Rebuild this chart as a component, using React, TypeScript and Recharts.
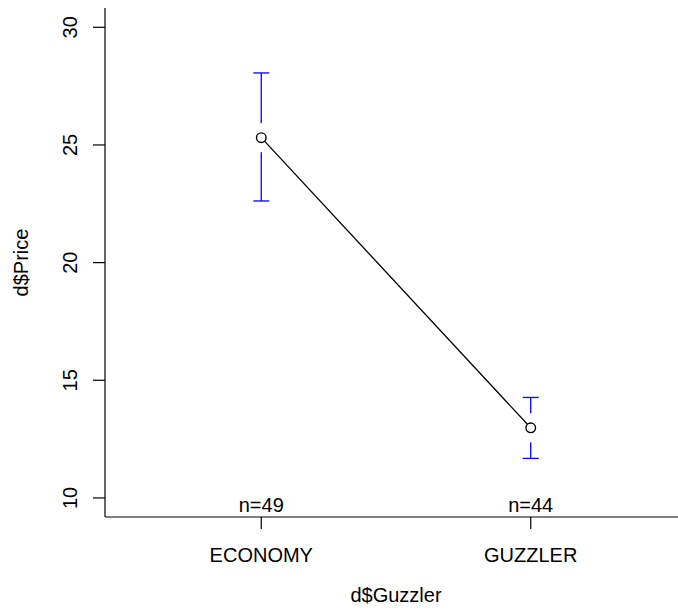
import React from "react";
import { ComposedChart, Line, Scatter, ErrorBar, XAxis, YAxis } from "recharts";

const categories = ["ECONOMY", "GUZZLER"];
const means = [25.31, 12.98];
const lowerCI = [22.62, 11.68];
const upperCI = [28.06, 14.27];
const counts = [49, 44];
const yTicks = [10, 15, 20, 25, 30];
const xTicks = [1, 2];

const rows = categories.map((c, i) => ({
  x: i + 1,
  name: c,
  mean: means[i],
  err: [means[i] - lowerCI[i], upperCI[i] - means[i]],
  n: counts[i],
}));

const FONT = "'Liberation Sans', Arial, Helvetica, sans-serif";
const FS = 20;
const SW = 1.2;

const XTick = (props: any) => {
  const { x, y, payload } = props;
  const i = Math.round(payload.value) - 1;
  return (
    <g>
      <text x={x} y={y - 16.7} textAnchor="middle" fontFamily={FONT} fontSize={FS} fill="#000">
        {"n=" + counts[i]}
      </text>
      <text x={x} y={y + 32.7} textAnchor="middle" fontFamily={FONT} fontSize={FS} fill="#000">
        {categories[i]}
      </text>
    </g>
  );
};

const YTick = (props: any) => {
  const { x, y, payload } = props;
  const bx = x - 16.3;
  return (
    <text
      x={bx}
      y={y}
      transform={`rotate(-90, ${bx}, ${y})`}
      textAnchor="middle"
      fontFamily={FONT}
      fontSize={FS}
      fill="#000"
    >
      {payload.value}
    </text>
  );
};

const MeanDot = (props: any) => {
  const { cx, cy, index } = props;
  if (cx == null || cy == null) return <g key={"d" + index} />;
  return (
    <g key={"d" + index}>
      <rect x={cx - 2} y={cy - 14.5} width={4} height={29} fill="#fff" />
      <circle cx={cx} cy={cy} r={4.8} fill="#fff" stroke="#000" strokeWidth={1.4} />
    </g>
  );
};

const XTitle = (props: any) => {
  const vb = props.viewBox;
  return (
    <text x={vb.x + vb.width / 2} y={vb.y + 85} textAnchor="middle" fontFamily={FONT} fontSize={FS} fill="#000">
      d$Guzzler
    </text>
  );
};

const YTitle = (props: any) => {
  const vb = props.viewBox;
  const x = vb.x + 27.5;
  const y = vb.y + vb.height / 2;
  return (
    <text x={x} y={y} transform={`rotate(-90, ${x}, ${y})`} textAnchor="middle" fontFamily={FONT} fontSize={FS} fill="#000">
      d$Price
    </text>
  );
};

export default function App() {
  return (
    <div style={{ position: "absolute", left: 0, top: 0, width: 678, height: 616, overflow: "hidden", background: "#fff" }}>
      <ComposedChart width={687} height={616} data={rows} margin={{ top: 8, right: 0, bottom: 0, left: 0 }}>
        <XAxis
          dataKey="x"
          type="number"
          domain={[0.42, 2.58]}
          ticks={xTicks}
          allowDataOverflow
          height={99}
          tickSize={12}
          tickMargin={0}
          tick={<XTick />}
          tickLine={{ stroke: "#000", strokeWidth: SW }}
          axisLine={{ stroke: "#000", strokeWidth: SW }}
          label={<XTitle />}
        />
        <XAxis
          xAxisId="top"
          orientation="top"
          dataKey="x"
          type="number"
          domain={[0.42, 2.58]}
          allowDataOverflow
          height={0}
          tick={false}
          tickLine={false}
          axisLine={{ stroke: "#000", strokeWidth: SW }}
        />
        <YAxis
          type="number"
          domain={[9.19, 30.82]}
          ticks={yTicks}
          allowDataOverflow
          width={105}
          tickSize={12}
          tickMargin={0}
          tick={<YTick />}
          tickLine={{ stroke: "#000", strokeWidth: SW }}
          axisLine={{ stroke: "#000", strokeWidth: SW }}
          label={<YTitle />}
        />
        <Scatter dataKey="mean" isAnimationActive={false} shape={() => <g />}>
          <ErrorBar dataKey="err" direction="y" width={8} stroke="#0000FF" strokeWidth={1.3} isAnimationActive={false} />
        </Scatter>
        <Line
          dataKey="mean"
          type="linear"
          stroke="#000"
          strokeWidth={1.3}
          dot={(p: any) => <MeanDot {...p} />}
          activeDot={false}
          isAnimationActive={false}
        />
      </ComposedChart>
    </div>
  );
}
